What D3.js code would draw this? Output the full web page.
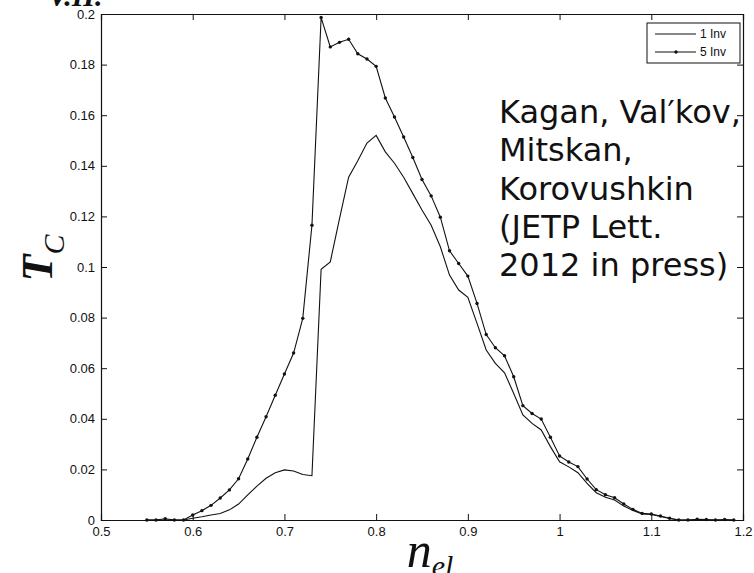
<!DOCTYPE html>
<html>
<head>
<meta charset="utf-8">
<script src="https://cdn.jsdelivr.net/npm/d3@7"></script>
<style>
  html, body { margin: 0; padding: 0; background: #fff; }
  svg { display: block; }
  .tick text { font-family: "Liberation Sans", Arial, sans-serif; font-size: 13px; fill: #111; }
</style>
</head>
<body>
<svg id="chart" width="754" height="573"></svg>
<script>
// Electron filling n_el (x)
const nEl = [0.55, 0.56, 0.57, 0.58, 0.59, 0.60, 0.61, 0.62, 0.63, 0.64,
             0.65, 0.66, 0.67, 0.68, 0.69, 0.70, 0.71, 0.72, 0.73, 0.74,
             0.75, 0.76, 0.77, 0.78, 0.79, 0.80, 0.81, 0.82, 0.83, 0.84,
             0.85, 0.86, 0.87, 0.88, 0.89, 0.90, 0.91, 0.92, 0.93, 0.94,
             0.95, 0.96, 0.97, 0.98, 0.99, 1.00, 1.01, 1.02, 1.03, 1.04,
             1.05, 1.06, 1.07, 1.08, 1.09, 1.10, 1.11, 1.12, 1.13, 1.14,
             1.15, 1.16, 1.17, 1.18, 1.19];

// T_C with one invariant
const tc1Inv = [0, 0, 0, 0, 0, 0.0007, 0.0013, 0.0020, 0.0026, 0.0040,
                0.0063, 0.0099, 0.0134, 0.0165, 0.0187, 0.0198, 0.0194, 0.0180, 0.0175, 0.0991,
                0.1020, 0.1190, 0.1355, 0.1420, 0.1490, 0.1520, 0.1455, 0.1410, 0.1355, 0.1290,
                0.1225, 0.1165, 0.1080, 0.0968, 0.0909, 0.0880, 0.0777, 0.0672, 0.0619, 0.0582,
                0.0500, 0.0415, 0.0382, 0.0356, 0.0290, 0.0230, 0.0210, 0.0187, 0.0145, 0.0108,
                0.0090, 0.0079, 0.0055, 0.0038, 0.0024, 0.0022, 0.0014, 0.0006, 0, 0,
                0, 0, 0, 0, 0];

// T_C with five invariants
const tc5Inv = [0, 0, 0.0005, 0, 0, 0.0020, 0.0037, 0.0058, 0.0087, 0.0119,
                0.0163, 0.0241, 0.0327, 0.0408, 0.0493, 0.0577, 0.0660, 0.0797, 0.1165, 0.1986,
                0.1870, 0.1888, 0.1900, 0.1843, 0.1822, 0.1793, 0.1668, 0.1593, 0.1514, 0.1433,
                0.1346, 0.1281, 0.1197, 0.1064, 0.1014, 0.0964, 0.0856, 0.0733, 0.0681, 0.0649,
                0.0566, 0.0452, 0.0421, 0.0399, 0.0327, 0.0253, 0.0229, 0.0211, 0.0162, 0.0120,
                0.0100, 0.0088, 0.0063, 0.0042, 0.0026, 0.0024, 0.0016, 0.0007, 0, 0,
                0.0003, 0.0002, 0, 0.0002, 0];

const xTicks = [0.5, 0.6, 0.7, 0.8, 0.9, 1.0, 1.1, 1.2];
const xTickLabels = ["0.5", "0.6", "0.7", "0.8", "0.9", "1", "1.1", "1.2"];
const yTicks = [0, 0.02, 0.04, 0.06, 0.08, 0.1, 0.12, 0.14, 0.16, 0.18, 0.2];
const yTickLabels = ["0", "0.02", "0.04", "0.06", "0.08", "0.1", "0.12", "0.14", "0.16", "0.18", "0.2"];

const seriesNames = ["1 Inv", "5 Inv"];
const noteLines = ["Kagan, Val\u2032kov,", "Mitskan,", "Korovushkin", "(JETP Lett.", "2012 in press)"];

const svg = d3.select("#chart");
const plot = { left: 101, right: 743, top: 14, bottom: 520 };

const x = d3.scaleLinear().domain([0.5, 1.2]).range([plot.left, plot.right]);
const y = d3.scaleLinear().domain([0, 0.2]).range([plot.bottom, plot.top]);

const ink = "#111";
const tick = 6;

// axes with inward ticks on all four sides
const fmtX = (d) => xTickLabels[xTicks.indexOf(d)];
const fmtY = (d) => yTickLabels[yTicks.indexOf(d)];

const gB = svg.append("g").attr("transform", `translate(0,${plot.bottom})`)
  .call(d3.axisBottom(x).tickValues(xTicks).tickFormat(fmtX).tickSize(-tick).tickPadding(9));
const gL = svg.append("g").attr("transform", `translate(${plot.left},0)`)
  .call(d3.axisLeft(y).tickValues(yTicks).tickFormat(fmtY).tickSize(-tick).tickPadding(6));
const gT = svg.append("g").attr("transform", `translate(0,${plot.top})`)
  .call(d3.axisTop(x).tickValues(xTicks).tickFormat("").tickSize(-tick));
const gR = svg.append("g").attr("transform", `translate(${plot.right},0)`)
  .call(d3.axisRight(y).tickValues(yTicks).tickFormat("").tickSize(-tick));

[gB, gL, gT, gR].forEach(g => {
  g.select(".domain").attr("stroke", ink).attr("stroke-width", 1.2);
  g.selectAll(".tick line").attr("stroke", ink).attr("stroke-width", 1);
});
gB.selectAll(".tick text").attr("dy", "0.5em");

// curves
const rows1 = nEl.map((n, i) => ({ n, t: tc1Inv[i] }));
const rows5 = nEl.map((n, i) => ({ n, t: tc5Inv[i] }));
const line = d3.line().x(d => x(d.n)).y(d => y(d.t));

svg.append("path").datum(rows1).attr("d", line)
  .attr("fill", "none").attr("stroke", ink).attr("stroke-width", 1.1);
svg.append("path").datum(rows5).attr("d", line)
  .attr("fill", "none").attr("stroke", ink).attr("stroke-width", 1.1);
svg.append("g").selectAll("circle").data(rows5).join("circle")
  .attr("cx", d => x(d.n)).attr("cy", d => y(d.t)).attr("r", 1.7).attr("fill", ink);

// legend
const lg = svg.append("g");
lg.append("rect").attr("x", 647).attr("y", 23).attr("width", 93).attr("height", 40)
  .attr("fill", "#fff").attr("stroke", ink).attr("stroke-width", 1);
seriesNames.forEach((name, i) => {
  const ly = 34 + i * 18;
  lg.append("line").attr("x1", 655).attr("x2", 696).attr("y1", ly).attr("y2", ly)
    .attr("stroke", ink).attr("stroke-width", 1.1);
  if (i === 1) lg.append("circle").attr("cx", 676).attr("cy", ly).attr("r", 1.7).attr("fill", ink);
  lg.append("text").attr("x", 700).attr("y", ly).attr("dy", "0.35em")
    .attr("font-family", "Liberation Sans, Arial, sans-serif").attr("font-size", 12)
    .attr("fill", ink).text(name);
});

// citation note
const note = svg.append("text")
  .attr("font-family", "DejaVu Sans, Verdana, sans-serif").attr("font-size", 32).attr("fill", ink);
noteLines.forEach((s, i) => {
  note.append("tspan").attr("x", 499).attr("y", 123 + i * 38.3).text(s);
});

// axis titles
const serif = "Liberation Serif, Times New Roman, serif";
const xl = svg.append("text").attr("x", 430).attr("y", 567).attr("text-anchor", "middle")
  .attr("font-family", serif).attr("font-style", "italic").attr("font-size", 50).attr("fill", ink);
xl.append("tspan").text("n");
xl.append("tspan").attr("font-size", 30).attr("dy", 9).text("el");

const yl = svg.append("text").attr("transform", "translate(52,258) rotate(-90)")
  .attr("text-anchor", "middle")
  .attr("font-family", serif).attr("font-style", "italic").attr("font-weight", "bold")
  .attr("font-size", 44).attr("fill", ink);
yl.append("tspan").text("T");
yl.append("tspan").attr("font-size", 30).attr("font-weight", "normal").attr("dy", 12).text("C");

// corner mark
svg.append("text").attr("x", 48).attr("y", 6)
  .attr("font-family", serif).attr("font-style", "italic").attr("font-weight", "bold")
  .attr("font-size", 30).attr("fill", ink).text("V.H.");
</script>
</body>
</html>
